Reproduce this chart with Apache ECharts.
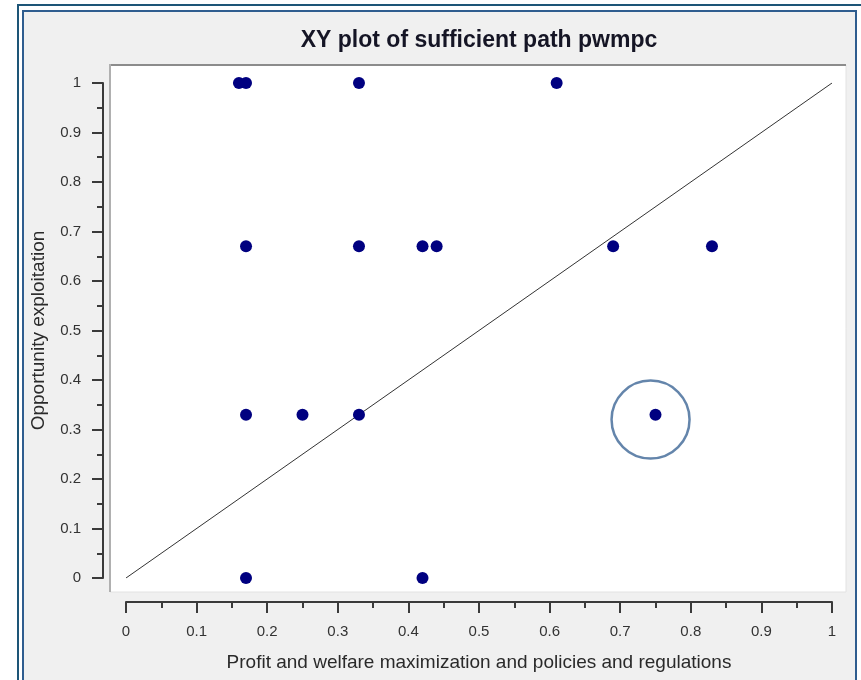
<!DOCTYPE html>
<html>
<head>
<meta charset="utf-8">
<script src="https://cdn.jsdelivr.net/npm/echarts@6/dist/echarts.min.js"></script>
<style>
html,body{margin:0;padding:0;background:#ffffff;}
#chart{width:861px;height:680px;}
</style>
</head>
<body>
<div id="chart"></div>
<script>
var titleText = 'XY plot of sufficient path pwmpc';
var xAxisName = 'Profit and welfare maximization and policies and regulations';
var yAxisName = 'Opportunity exploitation';
var pointsX = [0.16, 0.17, 0.33, 0.61, 0.17, 0.33, 0.42, 0.44, 0.69, 0.83, 0.17, 0.25, 0.33, 0.75, 0.17, 0.42];
var pointsY = [1, 1, 1, 1, 0.67, 0.67, 0.67, 0.67, 0.67, 0.67, 0.33, 0.33, 0.33, 0.33, 0, 0];
var diagonalX = [0, 1];
var diagonalY = [0, 1];
var highlightCenter = [0.743, 0.32];
var axisMin = 0, axisMax = 1, axisStep = 0.1;

var pts = pointsX.map(function (x, i) { return [x, pointsY[i]]; });
var diag = diagonalX.map(function (x, i) { return [x, diagonalY[i]]; });

var chart = echarts.init(document.getElementById('chart'), null, {renderer: 'canvas'});
var font = 'Liberation Sans, Arial, sans-serif';
var axisColor = '#3a3a3a';

var option = {
  backgroundColor: 'transparent',
  animation: false,
  graphic: [
    {type: 'rect', z: -10, shape: {x: 18, y: 5, width: 900, height: 800}, style: {fill: '#ffffff', stroke: '#1d5577', lineWidth: 2}},
    {type: 'rect', z: -9, shape: {x: 23, y: 11, width: 833, height: 800}, style: {fill: '#f0f0f0', stroke: '#2f5d8f', lineWidth: 2}},
    {type: 'rect', z: -8, shape: {x: 110, y: 65, width: 736, height: 527}, style: {fill: '#ffffff', stroke: '#e2e2e2', lineWidth: 1}},
    {type: 'line', z: -7, shape: {x1: 109, y1: 65, x2: 846, y2: 65}, style: {stroke: '#8c8c8c', lineWidth: 2}},
    {type: 'line', z: -7, shape: {x1: 110, y1: 64, x2: 110, y2: 592}, style: {stroke: '#b0b0b0', lineWidth: 2}}
  ],
  title: {
    text: titleText,
    left: 474,
    textAlign: 'center',
    top: 24,
    textStyle: {fontFamily: font, fontSize: 23, fontWeight: 'bold', color: '#151525'}
  },
  grid: {left: 126, top: 83, width: 706, height: 495, containLabel: false},
  xAxis: {
    type: 'value', min: axisMin, max: axisMax, interval: axisStep,
    offset: 24,
    name: xAxisName, nameLocation: 'middle', nameGap: 51,
    nameTextStyle: {fontFamily: font, fontSize: 19, color: '#2a2a2a'},
    axisLine: {show: true, onZero: false, lineStyle: {color: axisColor, width: 2}},
    axisTick: {show: true, length: 11, lineStyle: {color: axisColor, width: 2}},
    minorTick: {show: true, splitNumber: 2, length: 6, lineStyle: {color: axisColor, width: 2}},
    splitLine: {show: false},
    axisLabel: {fontFamily: font, fontSize: 15, color: '#333', margin: 22}
  },
  yAxis: {
    type: 'value', min: axisMin, max: axisMax, interval: axisStep,
    offset: 23,
    name: yAxisName, nameLocation: 'middle', nameGap: 55,
    nameTextStyle: {fontFamily: font, fontSize: 19, color: '#2a2a2a'},
    axisLine: {show: true, onZero: false, lineStyle: {color: axisColor, width: 2}},
    axisTick: {show: true, length: 11, lineStyle: {color: axisColor, width: 2}},
    minorTick: {show: true, splitNumber: 2, length: 6, lineStyle: {color: axisColor, width: 2}},
    splitLine: {show: false},
    axisLabel: {fontFamily: font, fontSize: 15, color: '#333', margin: 22}
  },
  series: [
    {
      type: 'line', data: diag, symbol: 'none', silent: true, z: 2,
      lineStyle: {color: '#333', width: 1}
    },
    {
      type: 'scatter', data: [highlightCenter], symbol: 'circle', symbolSize: 78, z: 3, silent: true,
      itemStyle: {color: 'rgba(0,0,0,0)', borderColor: '#3d6696', borderWidth: 2.5}
    },
    {
      type: 'scatter', data: pts, symbol: 'circle', symbolSize: 12, z: 4,
      itemStyle: {color: '#000080', opacity: 1}
    }
  ]
};
chart.setOption(option);
</script>
</body>
</html>
